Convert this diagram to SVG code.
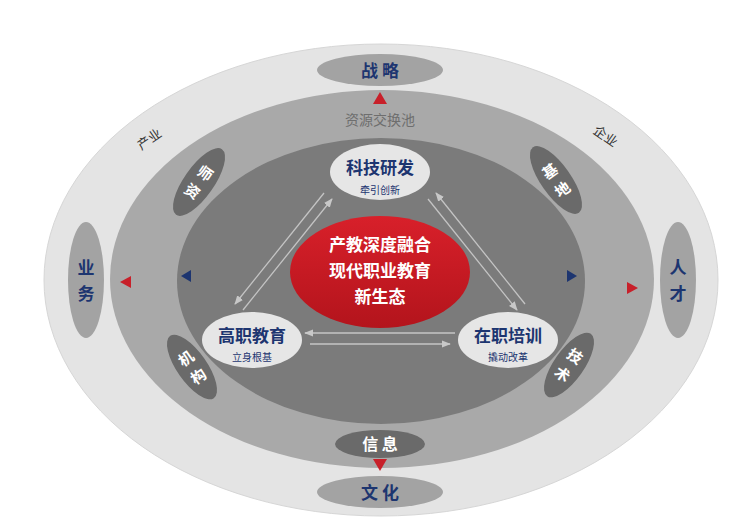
<svg xmlns="http://www.w3.org/2000/svg" width="749" height="521" viewBox="0 0 749 521">
<defs>
<style>
.t{font-family:"Noto Sans CJK SC","Noto Sans",sans-serif;font-weight:bold;text-anchor:middle}
.s{font-weight:normal}
.blue{fill:#1d3570}
.w{fill:#fff}
.con line{stroke:#c4c4c4;stroke-width:1.3}
</style>
<marker id="ah" viewBox="0 0 10 10" refX="9" refY="5" markerWidth="7" markerHeight="7" orient="auto-start-reverse"><path d="M0,1 L10,5 L0,9 z" fill="#c8c8c8"/></marker>
<linearGradient id="red" x1="0" y1="0" x2="0" y2="1"><stop offset="0" stop-color="#d8202a"/><stop offset="1" stop-color="#b3141c"/></linearGradient>
</defs>
<rect width="749" height="521" fill="#fff"/>
<g id="rings">
<ellipse cx="381" cy="280" rx="337" ry="236" fill="#e4e4e4" stroke="#d6d6d6"/>
<ellipse cx="382" cy="279" rx="272" ry="189" fill="#a9a9a9"/>
<ellipse cx="381" cy="281" rx="204" ry="143" fill="#7b7b7b"/>
</g>
<g id="labels">
<text class="t s" x="380" y="125" font-size="14" fill="#6e6e6e">资源交换池</text>
<text class="t s" x="0" y="0" font-size="13" fill="#333" transform="translate(152,143) rotate(-35)">产业</text>
<text class="t s" x="0" y="0" font-size="13" fill="#333" transform="translate(603,140) rotate(35)">企业</text>
</g>
<g id="markers">
<path d="M380,92 L387,104 L373,104 z" fill="#c8202a"/>
<path d="M380,471 L387,459 L373,459 z" fill="#c8202a"/>
<path d="M120,282 L131,276 L131,288 z" fill="#c8202a"/>
<path d="M638,288 L627,282 L627,294 z" fill="#c8202a"/>
<path d="M181,276 L191,270 L191,282 z" fill="#1d3570"/>
<path d="M577,276 L567,270 L567,282 z" fill="#1d3570"/>
</g>
<g id="n-zhanlue"><ellipse cx="380" cy="70" rx="63" ry="16" fill="#a3a3a3"/><text class="t blue" x="380" y="77" font-size="17">战 略</text></g>
<g id="n-wenhua"><ellipse cx="380" cy="492" rx="63" ry="16" fill="#a3a3a3"/><text class="t blue" x="380" y="499" font-size="17">文 化</text></g>
<g id="n-xinxi"><ellipse cx="380" cy="444" rx="45" ry="14" fill="#6a6a6a"/><text class="t w" x="380" y="450" font-size="16">信 息</text></g>
<g id="n-yewu"><ellipse cx="86" cy="280" rx="18" ry="58" fill="#a3a3a3"/><text class="t blue" x="86" y="274" font-size="17">业</text><text class="t blue" x="86" y="300" font-size="17">务</text></g>
<g id="n-rencai"><ellipse cx="678" cy="280" rx="18" ry="58" fill="#a3a3a3"/><text class="t blue" x="678" y="274" font-size="17">人</text><text class="t blue" x="678" y="300" font-size="17">才</text></g>
<g id="n-shizi" transform="translate(199,182) rotate(35)"><ellipse cx="0" cy="0" rx="15" ry="40" fill="#6a6a6a"/><text class="t w" x="0" y="-5" font-size="15">师</text><text class="t w" x="0" y="17" font-size="15">资</text></g>
<g id="n-jidi" transform="translate(556,180) rotate(-35)"><ellipse cx="0" cy="0" rx="15" ry="40" fill="#6a6a6a"/><text class="t w" x="0" y="-5" font-size="15">基</text><text class="t w" x="0" y="17" font-size="15">地</text></g>
<g id="n-jigou" transform="translate(192,367) rotate(-35)"><ellipse cx="0" cy="0" rx="15" ry="38" fill="#6a6a6a"/><text class="t w" x="0" y="-5" font-size="15">机</text><text class="t w" x="0" y="17" font-size="15">构</text></g>
<g id="n-jishu" transform="translate(569,365) rotate(35)"><ellipse cx="0" cy="0" rx="15" ry="38" fill="#6a6a6a"/><text class="t w" x="0" y="-5" font-size="15">技</text><text class="t w" x="0" y="17" font-size="15">术</text></g>
<g class="con" id="connectors">
<line x1="243" y1="310" x2="332" y2="199" marker-end="url(#ah)"/>
<line x1="324" y1="193" x2="235" y2="304" marker-end="url(#ah)"/>
<line x1="428" y1="199" x2="517" y2="310" marker-end="url(#ah)"/>
<line x1="525" y1="304" x2="436" y2="193" marker-end="url(#ah)"/>
<line x1="455" y1="333" x2="305" y2="333" marker-end="url(#ah)"/>
<line x1="310" y1="344" x2="450" y2="344" marker-end="url(#ah)"/>
</g>
<g id="n-center"><ellipse cx="380" cy="272" rx="90" ry="56" fill="url(#red)"/>
<text class="t w" x="380" y="251" font-size="17">产教深度融合</text>
<text class="t w" x="380" y="277" font-size="17">现代职业教育</text>
<text class="t w" x="380" y="303" font-size="17">新生态</text></g>
<g id="n-keji"><ellipse cx="380" cy="172" rx="50" ry="28" fill="#e6e6e6"/><text class="t blue" x="380" y="174" font-size="17">科技研发</text><text class="t s blue" x="380" y="194" font-size="10">牵引创新</text></g>
<g id="n-gaozhi"><ellipse cx="252" cy="340" rx="50" ry="28" fill="#e6e6e6"/><text class="t blue" x="252" y="342" font-size="17">高职教育</text><text class="t s blue" x="252" y="361" font-size="10">立身根基</text></g>
<g id="n-zaizhi"><ellipse cx="508" cy="340" rx="50" ry="28" fill="#e6e6e6"/><text class="t blue" x="508" y="342" font-size="17">在职培训</text><text class="t s blue" x="508" y="361" font-size="10">撬动改革</text></g>
</svg>
